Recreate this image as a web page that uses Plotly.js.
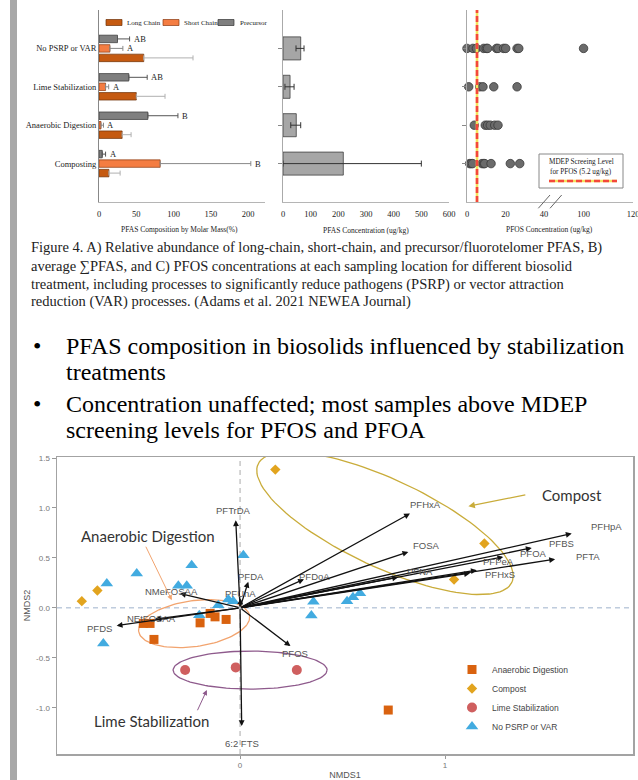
<!DOCTYPE html>
<html>
<head>
<meta charset="utf-8">
<script src="https://cdn.plot.ly/plotly-3.0.1.min.js"></script>
<style>html,body{margin:0;padding:0;background:#fff;}#chart{width:638px;height:780px;}</style>
</head>
<body>
<div id="chart"></div>
<script>
// ---------------- DATA ----------------
const treatments = ['Composting', 'Anaerobic Digestion', 'Lime Stabilization', 'No PSRP or VAR'];
const longChain = [13.3, 31, 50, 60];
const longChainErr = [15, 12, 38.5, 66];
const shortChain = [82, 2.7, 8.8, 14.6];
const shortChainErr = [121.5, 3.3, 4.2, 17.4];
const precursor = [4.4, 65.5, 40, 24.8];
const precursorErr = [4.4, 40.3, 24.6, 16.2];
const shortLetters = ['B', 'A', 'A', 'A'];
const precursorLetters = ['A', 'B', 'AB', 'AB'];

const sumPFAS = [218, 48, 25.5, 64];
const sumPFASErrMinus = [218, 20, 18.5, 17];
const sumPFASErrPlus = [282, 16, 14.5, 12];

const pfosComposting = [1.4, 2.1, 2.9, 7.8, 8.7, 9.2, 12.5, 22.5, 27.4];
const pfosAnaerobic = [3.8, 9.5, 10.7, 12.1, 14.4, 16.1];
const pfosLime = [0.9, 6.6, 8.3, 13.9, 26];
const pfosNoPSRP = [0, 3.1, 4.9, 8.7, 10, 10.7, 15.3, 16.1, 19, 20.1, 26, 26.9, 100];
const mdepPFOS = 5.2;

// NMDS scores
const adX = [-0.472, -0.439, -0.420, -0.195, -0.146, -0.122, -0.068, 0.723];
const adY = [-0.156, -0.156, -0.316, -0.150, -0.056, -0.090, -0.116, -1.023];
const compX = [-0.772, -0.696, 0.172, 1.192, 1.044];
const compY = [0.067, 0.174, 1.384, 0.644, 0.284];
const limeX = [-0.268, -0.021, 0.277];
const limeY = [-0.623, -0.596, -0.623];
const noX = [-0.650, -0.504, -0.236, 0.016, -0.301, -0.260, -0.057, -0.033, 0.358, 0.348, -0.667, -0.199, -0.106, 0.522, 0.551, 0.585];
const noY = [0.244, 0.344, 0.427, 0.527, 0.220, 0.220, 0.084, 0.067, 0.060, -0.076, -0.356, -0.073, 0.027, 0.067, 0.107, 0.147];

// NMDS loading vectors
const vecNames = ['PFTrDA', 'PFDA', 'PFUnA', 'NMeFOSAA', 'NEtFOSAA', 'PFDS', 'PFOS', '6:2 FTS', 'PFDoA', 'PFHxA', 'FOSA', 'PFHpA', 'PFBS', 'PFOA', 'PFTA', 'PFPeA', 'PFHxS', 'PFNA'];
const vecX = [-0.021, 0.040, 0.003, -0.293, -0.415, -0.602, 0.246, 0.008, 0.312, 0.829, 0.821, 1.618, 1.423, 1.284, 1.537, 1.155, 1.122, 0.771];
const vecY = [0.877, 0.260, 0.094, 0.144, -0.113, -0.178, -0.383, -1.183, 0.287, 0.944, 0.560, 0.744, 0.600, 0.510, 0.487, 0.377, 0.347, 0.307];

// group ellipses: centre, conjugate semi-axis vectors (data units)
const ellCompost = {cx: 0.707, cy: 0.847, ax: 0.619, ay: -0.592, bx: -0.0908, by: -0.399};
const ellAnaerobic = {cx: -0.224, cy: -0.158, ax: 0.2705, ay: 0.0779, bx: 0.0156, by: -0.2277};
const ellLime = {cx: 0.049, cy: -0.623, ax: 0.3756, ay: 0, bx: 0, by: -0.19};

// ---------------- LAYOUT HELPERS ----------------
const W = 638, H = 780;
const X = p => p / W;
const Y = p => 1 - p / H;
const idx = [0, 1, 2, 3];
const zeros = [0, 0, 0, 0];
const serif = 'Liberation Serif';
const sans = 'Liberation Sans';

// label offsets for vector labels (px: dx right, dy down)
const vecLabelOff = [[-2, -10], [3, -5], [0, -5], [-8, -2], [-3, -1], [-17, 3], [5, 7], [0, 17], [10, -3], [16, -9], [18, -6], [35, -7], [30, -4], [30, -3], [33, -3], [22, -9], [30, 1], [22, -6]];

function ellipse(e) {
  const xs = [], ys = [];
  for (let i = 0; i <= 120; i++) {
    const t = 2 * Math.PI * i / 120;
    xs.push(e.cx + e.ax * Math.cos(t) + e.bx * Math.sin(t));
    ys.push(e.cy + e.ay * Math.cos(t) + e.by * Math.sin(t));
  }
  return {xs, ys};
}

const traces = [];
// Panel A bars
const barW = 0.195;
traces.push({type: 'bar', orientation: 'h', name: 'Long Chain', x: longChain, y: idx, width: barW, offset: -0.345,
  marker: {color: '#c55a11', line: {color: '#6e3007', width: 0.7}},
  error_x: {type: 'data', symmetric: false, array: longChainErr, arrayminus: zeros, color: '#b0b0b0', thickness: 1, width: 2.5},
  xaxis: 'x', yaxis: 'y', showlegend: false, hoverinfo: 'skip'});
traces.push({type: 'bar', orientation: 'h', name: 'Short Chain', x: shortChain, y: idx, width: barW, offset: -0.0975,
  marker: {color: '#f47d42', line: {color: '#8a3a10', width: 0.7}},
  error_x: {type: 'data', symmetric: false, array: shortChainErr, arrayminus: zeros, color: '#888', thickness: 1, width: 2.5},
  xaxis: 'x', yaxis: 'y', showlegend: false, hoverinfo: 'skip'});
traces.push({type: 'bar', orientation: 'h', name: 'Precursor', x: precursor, y: idx, width: barW, offset: 0.1495,
  marker: {color: '#7f7f7f', line: {color: '#333', width: 0.7}},
  error_x: {type: 'data', symmetric: false, array: precursorErr, arrayminus: zeros, color: '#555', thickness: 1, width: 2.5},
  xaxis: 'x', yaxis: 'y', showlegend: false, hoverinfo: 'skip'});
// Panel B
traces.push({type: 'bar', orientation: 'h', name: 'ΣPFAS', x: sumPFAS, y: idx, width: 0.6, offset: -0.3,
  marker: {color: '#a6a6a6', line: {color: '#404040', width: 0.8}},
  error_x: {type: 'data', symmetric: false, array: sumPFASErrPlus, arrayminus: sumPFASErrMinus, color: '#333', thickness: 1, width: 3},
  xaxis: 'x2', yaxis: 'y2', showlegend: false, hoverinfo: 'skip'});
// Panel C
const pfosSets = [pfosComposting, pfosAnaerobic, pfosLime, pfosNoPSRP];
const cxLow = [], cyLow = [], cxHigh = [], cyHigh = [];
pfosSets.forEach((arr, i) => arr.forEach(v => {
  if (v <= 40) { cxLow.push(v); cyLow.push(i); } else { cxHigh.push(v); cyHigh.push(i); }
}));
const dotMarker = {size: 8.5, color: '#6b6b6b', line: {color: '#3a3a3a', width: 0.8}};
traces.push({type: 'scatter', mode: 'markers', x: cxLow, y: cyLow, marker: dotMarker, xaxis: 'x3', yaxis: 'y3', showlegend: false, cliponaxis: false, hoverinfo: 'skip'});
traces.push({type: 'scatter', mode: 'markers', x: cxHigh, y: cyHigh, marker: dotMarker, xaxis: 'x4', yaxis: 'y3', showlegend: false, cliponaxis: false, hoverinfo: 'skip'});

// NMDS ellipses
[[ellCompost, '#c9ac3a'], [ellAnaerobic, '#f2a46f'], [ellLime, '#8e5a8c']].forEach(([e, c]) => {
  const p = ellipse(e);
  traces.push({type: 'scatter', mode: 'lines', x: p.xs, y: p.ys, line: {color: c, width: 1.3}, xaxis: 'x5', yaxis: 'y5', showlegend: false, hoverinfo: 'skip'});
});
// NMDS points
traces.push({type: 'scatter', mode: 'markers', name: 'Anaerobic Digestion', x: adX, y: adY, marker: {symbol: 'square', size: 9, color: '#d9620f'}, xaxis: 'x5', yaxis: 'y5', legend: 'legend2'});
traces.push({type: 'scatter', mode: 'markers', name: 'Compost', x: compX, y: compY, marker: {symbol: 'diamond', size: 8, color: '#e2a41e'}, xaxis: 'x5', yaxis: 'y5', legend: 'legend2'});
traces.push({type: 'scatter', mode: 'markers', name: 'Lime Stabilization', x: limeX, y: limeY, marker: {symbol: 'circle', size: 10, color: '#cf5f5f'}, xaxis: 'x5', yaxis: 'y5', legend: 'legend2'});
traces.push({type: 'scatter', mode: 'markers', name: 'No PSRP or VAR', x: noX, y: noY, marker: {symbol: 'triangle-up', size: 11, color: '#42abe0'}, xaxis: 'x5', yaxis: 'y5', legend: 'legend2'});

// ---------------- ANNOTATIONS / SHAPES ----------------
const ann = [];
const shapes = [];
// left grey bar
shapes.push({type: 'rect', xref: 'paper', yref: 'paper', x0: X(10), x1: X(17), y0: 0, y1: 1, fillcolor: '#a8a8a8', line: {width: 0}, layer: 'below'});

// Panel A letters
const tfont = {family: serif, size: 8.5, color: '#222'};
idx.forEach(i => {
  ann.push({xref: 'x', yref: 'y', x: precursor[i] + precursorErr[i], y: i + 0.2475, text: precursorLetters[i], showarrow: false, xanchor: 'left', yanchor: 'middle', xshift: 2, font: tfont});
  ann.push({xref: 'x', yref: 'y', x: shortChain[i] + shortChainErr[i], y: i, text: shortLetters[i], showarrow: false, xanchor: 'left', yanchor: 'middle', xshift: 2, font: tfont});
});
// Panel A legend (manual)
const legItems = [['Long Chain', '#c55a11', '#6e3007', 106, 125], ['Short Chain', '#f47d42', '#8a3a10', 163, 182], ['Precursor', '#7f7f7f', '#333', 218, 238]];
legItems.forEach(([t, c, lc, bx, tx]) => {
  shapes.push({type: 'rect', xref: 'paper', yref: 'paper', x0: X(bx), x1: X(bx + 16), y0: Y(25.5), y1: Y(19.5), fillcolor: c, line: {color: lc, width: 0.7}});
  ann.push({xref: 'paper', yref: 'paper', x: X(tx), y: Y(22.5), text: t, showarrow: false, xanchor: 'left', yanchor: 'middle', font: {family: serif, size: 7, color: '#222'}});
});

// Axis titles of the top panels
const axTitleFont = {family: serif, size: 7.5, color: '#222'};
ann.push({xref: 'paper', yref: 'paper', x: X(180), y: Y(229), text: 'PFAS Composition by Molar Mass(%)', showarrow: false, xanchor: 'center', yanchor: 'middle', font: axTitleFont});
ann.push({xref: 'paper', yref: 'paper', x: X(366), y: Y(230.5), text: 'PFAS Concentration (ug/kg)', showarrow: false, xanchor: 'center', yanchor: 'middle', font: axTitleFont});
ann.push({xref: 'paper', yref: 'paper', x: X(549), y: Y(229), text: 'PFOS Concentration (ug/kg)', showarrow: false, xanchor: 'center', yanchor: 'middle', font: axTitleFont});

// Panel C: MDEP screening level line
shapes.push({type: 'line', xref: 'x3', yref: 'y3 domain', x0: mdepPFOS, x1: mdepPFOS, y0: 0, y1: 1, line: {color: '#f3e25c', width: 2.6}});
shapes.push({type: 'line', xref: 'x3', yref: 'y3 domain', x0: mdepPFOS, x1: mdepPFOS, y0: 0, y1: 1, line: {color: '#f4473c', width: 2.6, dash: '6px,3px'}});
// break marks
shapes.push({type: 'line', xref: 'paper', yref: 'paper', x0: X(538.3), x1: X(550), y0: Y(208.3), y1: Y(195), line: {color: '#666', width: 1}});
shapes.push({type: 'line', xref: 'paper', yref: 'paper', x0: X(550), x1: X(561.7), y0: Y(208.3), y1: Y(195), line: {color: '#666', width: 1}});
// MDEP legend box
shapes.push({type: 'rect', xref: 'paper', yref: 'paper', x0: X(539), x1: X(623), y0: Y(188), y1: Y(154), fillcolor: '#fff', line: {color: '#888', width: 1}});
shapes.push({type: 'line', xref: 'paper', yref: 'paper', x0: X(549), x1: X(617), y0: Y(181), y1: Y(181), line: {color: '#f3e25c', width: 2.6}});
shapes.push({type: 'line', xref: 'paper', yref: 'paper', x0: X(549), x1: X(617), y0: Y(181), y1: Y(181), line: {color: '#f4473c', width: 2.6, dash: '6px,3px'}});
ann.push({xref: 'paper', yref: 'paper', x: X(581), y: Y(162), text: 'MDEP Screeing Level', showarrow: false, xanchor: 'center', yanchor: 'middle', font: {family: serif, size: 7.2, color: '#222'}});
ann.push({xref: 'paper', yref: 'paper', x: X(581), y: Y(171.5), text: 'for PFOS (5.2 ug/kg)', showarrow: false, xanchor: 'center', yanchor: 'middle', font: {family: serif, size: 7.2, color: '#222'}});

// Caption
const caption = [
  'Figure 4. A) Relative abundance of long-chain, short-chain, and precursor/fluorotelomer PFAS, B)',
  'average ∑PFAS, and C) PFOS concentrations at each sampling location for different biosolid',
  'treatment, including processes to significantly reduce pathogens (PSRP) or vector attraction',
  'reduction (VAR) processes. (Adams et al. 2021 NEWEA Journal)'
];
const capY = [248, 266, 284, 302];
caption.forEach((t, i) => ann.push({xref: 'paper', yref: 'paper', x: X(29), y: Y(capY[i]), text: t, showarrow: false, xanchor: 'left', yanchor: 'middle', font: {family: serif, size: 14.5, color: '#222'}}));

// Bullets
const bullets = [
  ['•', 'PFAS composition in biosolids influenced by stabilization', 346],
  ['', 'treatments', 372],
  ['•', 'Concentration unaffected; most samples above MDEP', 404],
  ['', 'screening levels for PFOS and PFOA', 430]
];
bullets.forEach(([b, t, y]) => {
  if (b) ann.push({xref: 'paper', yref: 'paper', x: X(31), y: Y(y), text: b, showarrow: false, xanchor: 'left', yanchor: 'middle', font: {family: serif, size: 24, color: '#000'}});
  ann.push({xref: 'paper', yref: 'paper', x: X(64), y: Y(y), text: t, showarrow: false, xanchor: 'left', yanchor: 'middle', font: {family: serif, size: 24, color: '#000'}});
});

// NMDS zero lines
shapes.push({type: 'line', xref: 'x5 domain', yref: 'y5', x0: 0, x1: 1, y0: 0, y1: 0, line: {color: '#9db1cc', width: 1, dash: '5px,4px'}, layer: 'below'});
shapes.push({type: 'line', xref: 'x5', yref: 'y5 domain', x0: 0, x1: 0, y0: 0, y1: 1, line: {color: '#aaa', width: 1, dash: '5px,4px'}, layer: 'below'});

// NMDS vectors
vecNames.forEach((n, i) => {
  ann.push({xref: 'x5', yref: 'y5', axref: 'x5', ayref: 'y5', x: vecX[i], y: vecY[i], ax: 0, ay: 0, text: '', showarrow: true,
    arrowhead: 2, arrowsize: 0.9, arrowwidth: 1.3, arrowcolor: '#111', standoff: 0, startstandoff: 0});
  ann.push({xref: 'x5', yref: 'y5', x: vecX[i], y: vecY[i], text: n, showarrow: false, xshift: vecLabelOff[i][0], yshift: -vecLabelOff[i][1],
    font: {family: sans, size: 9.5, color: '#555'}});
});
// Group callouts
const callFont = {family: 'Lato', size: 15, color: '#333'};
ann.push({xref: 'x5', yref: 'y5', axref: 'x5', ayref: 'y5', x: 1.114, y: 1.017, ax: 1.399, ay: 1.134, text: '', showarrow: true, arrowhead: 2, arrowsize: 1, arrowwidth: 1.3, arrowcolor: '#c9ac3a', standoff: 0});
ann.push({xref: 'x5', yref: 'y5', x: 1.62, y: 1.134, text: 'Compost', showarrow: false, font: callFont});
ann.push({xref: 'x5', yref: 'y5', axref: 'x5', ayref: 'y5', x: -0.333, y: 0.077, ax: -0.463, ay: 0.627, text: '', showarrow: true, arrowhead: 2, arrowsize: 1, arrowwidth: 1, arrowcolor: '#f2a46f', standoff: 0});
ann.push({xref: 'x5', yref: 'y5', x: -0.447, y: 0.72, text: 'Anaerobic Digestion', showarrow: false, font: callFont});
ann.push({xref: 'x5', yref: 'y5', axref: 'x5', ayref: 'y5', x: -0.162, y: -0.823, ax: -0.211, ay: -1.04, text: '', showarrow: true, arrowhead: 2, arrowsize: 1, arrowwidth: 1, arrowcolor: '#8e5a8c', standoff: 0});
ann.push({xref: 'x5', yref: 'y5', x: -0.431, y: -1.13, text: 'Lime Stabilization', showarrow: false, font: callFont});

// ---------------- AXES ----------------
const topDomainY = [Y(202), Y(10)];
const serifTick = {family: serif, size: 8.5, color: '#222'};
const axBase = {showgrid: false, zeroline: false, showline: true, linecolor: '#b5b5b5', linewidth: 1, fixedrange: true};
const layout = {
  width: W, height: H, margin: {l: 0, r: 0, t: 0, b: 0}, paper_bgcolor: '#fff', plot_bgcolor: 'rgba(0,0,0,0)',
  barmode: 'overlay', showlegend: true,
  xaxis: Object.assign({}, axBase, {domain: [X(99), X(265)], range: [0, 222.5], anchor: 'y', tickvals: [0, 50, 100, 150, 200], ticks: '', tickfont: serifTick, ticklabelstandoff: 4}),
  yaxis: Object.assign({}, axBase, {domain: topDomainY, range: [-1, 4], anchor: 'x', tickvals: idx, ticktext: treatments, ticks: '', tickfont: serifTick, linecolor: '#888'}),
  xaxis2: Object.assign({}, axBase, {domain: [X(283), X(449)], range: [0, 600], anchor: 'y2', dtick: 100, ticks: '', tickfont: serifTick, ticklabelstandoff: 4}),
  yaxis2: Object.assign({}, axBase, {domain: topDomainY, range: [-1, 4], anchor: 'x2', tickvals: idx, showticklabels: false, ticks: 'outside', ticklen: 4, tickcolor: '#888', linecolor: '#aaa'}),
  xaxis3: Object.assign({}, axBase, {domain: [X(467), X(544)], range: [0, 40], anchor: 'y3', tickvals: [0, 20, 40], ticks: '', tickfont: serifTick, ticklabelstandoff: 4}),
  xaxis4: Object.assign({}, axBase, {domain: [X(544), X(633)], range: [84, 120], anchor: 'y3', tickvals: [100, 120], ticks: '', tickfont: serifTick, ticklabelstandoff: 4, ticklabeloverflow: 'allow'}),
  yaxis3: Object.assign({}, axBase, {domain: topDomainY, range: [-1, 4], anchor: 'x3', tickvals: idx, showticklabels: false, ticks: 'outside', ticklen: 4, tickcolor: '#888', linecolor: '#aaa'}),
  xaxis5: {domain: [X(57), X(633)], range: [-0.893, 1.917], anchor: 'y5', tickvals: [0, 1], ticktext: ['0', '1'], showgrid: false, zeroline: false,
    showline: true, mirror: true, linecolor: '#a3a3a3', linewidth: 1.5, ticks: 'outside', ticklen: 3, tickcolor: '#999',
    tickfont: {family: sans, size: 8, color: '#777'}, title: {text: 'NMDS1', font: {family: sans, size: 9, color: '#555'}, standoff: 3}, fixedrange: true},
  yaxis5: {domain: [Y(754), Y(457)], range: [-1.463, 1.51], anchor: 'x5', tickvals: [-1, -0.5, 0, 0.5, 1, 1.5], ticktext: ['-1.0', '-0.5', '0.0', '0.5', '1.0', '1.5'],
    showgrid: false, zeroline: false, showline: true, mirror: true, linecolor: '#a3a3a3', linewidth: 1.5, ticks: 'outside', ticklen: 4, tickcolor: '#999',
    tickfont: {family: sans, size: 8, color: '#777'}, title: {text: 'NMDS2', font: {family: sans, size: 9, color: '#555'}, standoff: 4}, fixedrange: true},
  legend2: {x: X(452), y: Y(655), xanchor: 'left', yanchor: 'top', bgcolor: 'rgba(0,0,0,0)', font: {family: sans, size: 8.5, color: '#444'}, tracegroupgap: 0, itemwidth: 30},
  annotations: ann,
  shapes: shapes
};

Plotly.newPlot('chart', traces, layout, {displayModeBar: false, staticPlot: true});
</script>
</body>
</html>
